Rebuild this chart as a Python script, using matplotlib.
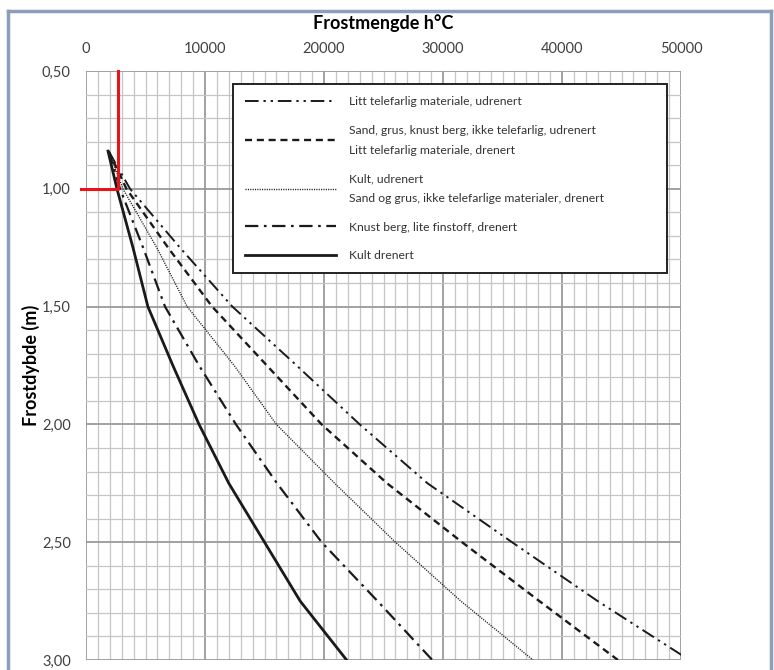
import numpy as np
import matplotlib.pyplot as plt
from matplotlib.lines import Line2D

plt.rcParams['font.family'] = ['Lato', 'DejaVu Sans']

# depth (m) for each curve
depth = [0.84, 1.00, 1.25, 1.50, 1.75, 2.00, 2.25, 2.50, 2.75, 3.00]

# frost amount (h°C) per curve
kult_drenert = [1850, 2600, 3950, 5200, 7300, 9500, 12000, 15000, 18000, 21900]
knust_berg = [1900, 2860, 4800, 6640, 9500, 12600, 16050, 19800, 24500, 29100]
kult_udrenert = [1900, 3100, 5950, 8500, 12450, 16000, 20900, 26000, 31500, 37560]
sand_grus = [1900, 3400, 6900, 10600, 15200, 19800, 25300, 31600, 38100, 44700]
litt_tele = [1900, 3700, 7900, 12300, 17700, 23000, 28700, 35800, 43000, 50700]

labels = [
    "Litt telefarlig materiale, udrenert",
    "Sand, grus, knust berg, ikke telefarlig, udrenert\nLitt telefarlig materiale, drenert",
    "Kult, udrenert\nSand og grus, ikke telefarlige materialer, drenert",
    "Knust berg, lite finstoff, drenert",
    "Kult drenert",
]

# red marker line
red_x = [-400, 2700, 2700]
red_y = [1.0, 1.0, 0.5]

fig = plt.figure(figsize=(7.74, 6.70), dpi=100)
ax = fig.add_axes([86 / 774, 10 / 670, 595 / 774, 589 / 670])

ax.set_xlim(0, 50000)
ax.set_ylim(3.0, 0.5)

# grid
for xv in np.arange(0, 50001, 1000):
    major = xv % 10000 == 0
    ax.axvline(xv, color='#9a9a9a' if major else '#c6c6c6',
               lw=1.3 if major else 0.9, zorder=0)
for yv in np.arange(0.5, 3.001, 0.1):
    major = abs(yv * 2 - round(yv * 2)) < 1e-6
    ax.axhline(yv, color='#9a9a9a' if major else '#c6c6c6',
               lw=1.3 if major else 0.9, zorder=0)

styles = [
    dict(dashes=(7, 2.5, 1.2, 2.5, 1.2, 2.5), lw=1.4),
    dict(dashes=(3, 2), lw=1.7),
    dict(dashes=(0.8, 0.9), lw=1.0),
    dict(dashes=(6, 2.5, 1.2, 2.5), lw=1.6),
    dict(linestyle='-', lw=2.0),
]
series = [litt_tele, sand_grus, kult_udrenert, knust_berg, kult_drenert]

handles = []
for s, st, lab in zip(series, styles, labels):
    ln, = ax.plot(s, depth, color='#1a1a1a', label=lab, **st)
    handles.append(ln)

ax.plot(red_x, red_y, color='#e8141c', lw=2.2, clip_on=False, zorder=5)

ax.xaxis.tick_top()
ax.xaxis.set_label_position('top')
ax.set_xticks(np.arange(0, 50001, 10000))
ax.set_xticklabels([str(v) for v in range(0, 50001, 10000)])
ax.set_yticks(np.arange(0.5, 3.01, 0.5))
ax.set_yticklabels([f"{v:.2f}".replace('.', ',') for v in np.arange(0.5, 3.01, 0.5)])
ax.tick_params(length=0, labelsize=10.5, colors='#404040')
ax.tick_params(axis='x', pad=11)
ax.tick_params(axis='y', pad=11)
ax.set_xlabel("Frostmengde h\u00b0C", fontsize=13, fontweight='bold', labelpad=9)
ax.set_ylabel("Frostdybde (m)", fontsize=13, fontweight='bold', labelpad=1)
for sp in ax.spines.values():
    sp.set_visible(False)

leg = ax.legend(handles=handles, loc='upper left',
                bbox_to_anchor=(147 / 595, 0.3, 434 / 595, 1 - 13 / 589 - 0.3),
                mode='expand', borderaxespad=0,
                fontsize=8.7, handlelength=7.5, labelspacing=1.45,
                borderpad=1.0, handletextpad=1.1, fancybox=False,
                framealpha=1, edgecolor='#222222')
leg.get_frame().set_linewidth(1.4)
for t in leg.get_texts():
    t.set_linespacing(2.0)
    t.set_color('#333333')

# outer screenshot frame
fig.add_artist(Line2D([8 / 774, 8 / 774], [0, 1 - 11 / 670], color='#8c9fba', lw=2.5))
fig.add_artist(Line2D([8 / 774, 771 / 774], [1 - 11 / 670, 1 - 11 / 670], color='#8c9fba', lw=2.5))
fig.add_artist(Line2D([771 / 774, 771 / 774], [0, 1 - 11 / 670], color='#8c9fba', lw=2.5))

fig.savefig("out.png", dpi=100)
